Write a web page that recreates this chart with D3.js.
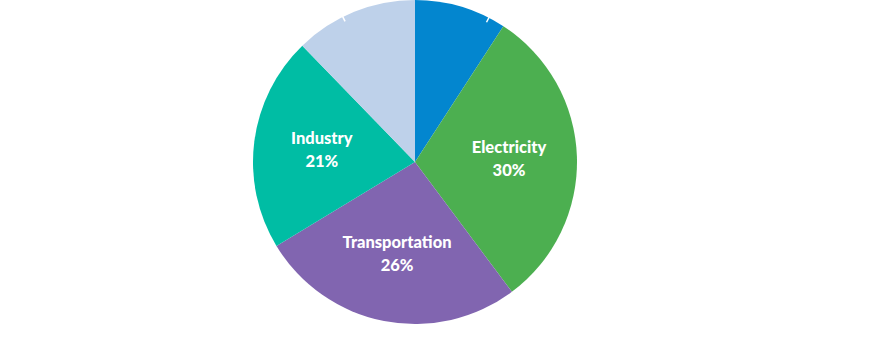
<!DOCTYPE html>
<html>
<head>
<meta charset="utf-8">
<script src="https://cdn.jsdelivr.net/npm/d3@7"></script>
<style>
  html, body { margin: 0; padding: 0; background: #fff; }
  svg { display: block; }
</style>
</head>
<body>
<svg id="chart"></svg>
<script>
// sectors, clockwise from 12 o'clock
var sectors = ['Agriculture', 'Electricity', 'Transportation', 'Industry', 'Commercial & Residential'];
var shares = [9, 30, 26, 21, 12];
var colors = ['#0386cf', '#4caf50', '#8165b0', '#00bda4', '#bed1ea'];
var showLabel = [false, true, true, true, false];

var config = {
    width: 884,
    height: 356,
    cx: 415,
    cy: 162,
    radius: 162,
    labelRadius: 94,
    // where the white leader stub of an outside label meets the rim (fraction of slice)
    leaderAt: { 0: 0.82, 4: 0.4 }
};

var svg = d3.select('#chart')
    .attr('width', config.width)
    .attr('height', config.height);

var g = svg.append('g')
    .attr('transform', 'translate(' + config.cx + ',' + config.cy + ')');

var pie = d3.pie().sort(null).value(function(d) { return d; });
var arcs = pie(shares);

var arc = d3.arc().innerRadius(0).outerRadius(config.radius);
var labelArc = d3.arc().innerRadius(config.labelRadius).outerRadius(config.labelRadius);

g.selectAll('path.slice')
    .data(arcs)
    .enter()
    .append('path')
    .attr('class', 'slice')
    .attr('d', arc)
    .attr('fill', function(d, i) { return colors[i]; });

function leaderAngle(d) {
    var f = config.leaderAt[d.index];
    return d.startAngle + f * (d.endAngle - d.startAngle);
}

// white leader stubs of the (white, invisible) outside labels of the small slices
g.selectAll('line.leader')
    .data(arcs.filter(function(d, i) { return !showLabel[i]; }))
    .enter()
    .append('line')
    .attr('class', 'leader')
    .attr('x1', function(d) { return Math.sin(leaderAngle(d)) * (config.radius - 5); })
    .attr('y1', function(d) { return -Math.cos(leaderAngle(d)) * (config.radius - 5); })
    .attr('x2', function(d) { return Math.sin(leaderAngle(d)) * (config.radius + 2); })
    .attr('y2', function(d) { return -Math.cos(leaderAngle(d)) * (config.radius + 2); })
    .attr('stroke', '#fff')
    .attr('stroke-width', 1.5);

var labels = g.selectAll('text.label')
    .data(arcs.filter(function(d, i) { return showLabel[i]; }))
    .enter()
    .append('text')
    .attr('class', 'label')
    .attr('transform', function(d) { return 'translate(' + labelArc.centroid(d) + ')'; })
    .attr('text-anchor', 'middle')
    .attr('fill', '#fff')
    .style('font-family', 'Lato, "Open Sans", sans-serif')
    .style('font-weight', '900')
    .style('font-size', '16.5px');

labels.append('tspan')
    .attr('x', 0)
    .attr('y', -6)
    .text(function(d) { return sectors[d.index]; });

labels.append('tspan')
    .attr('x', 0)
    .attr('y', 17)
    .text(function(d) { return d.value + '%'; });
</script>
</body>
</html>
